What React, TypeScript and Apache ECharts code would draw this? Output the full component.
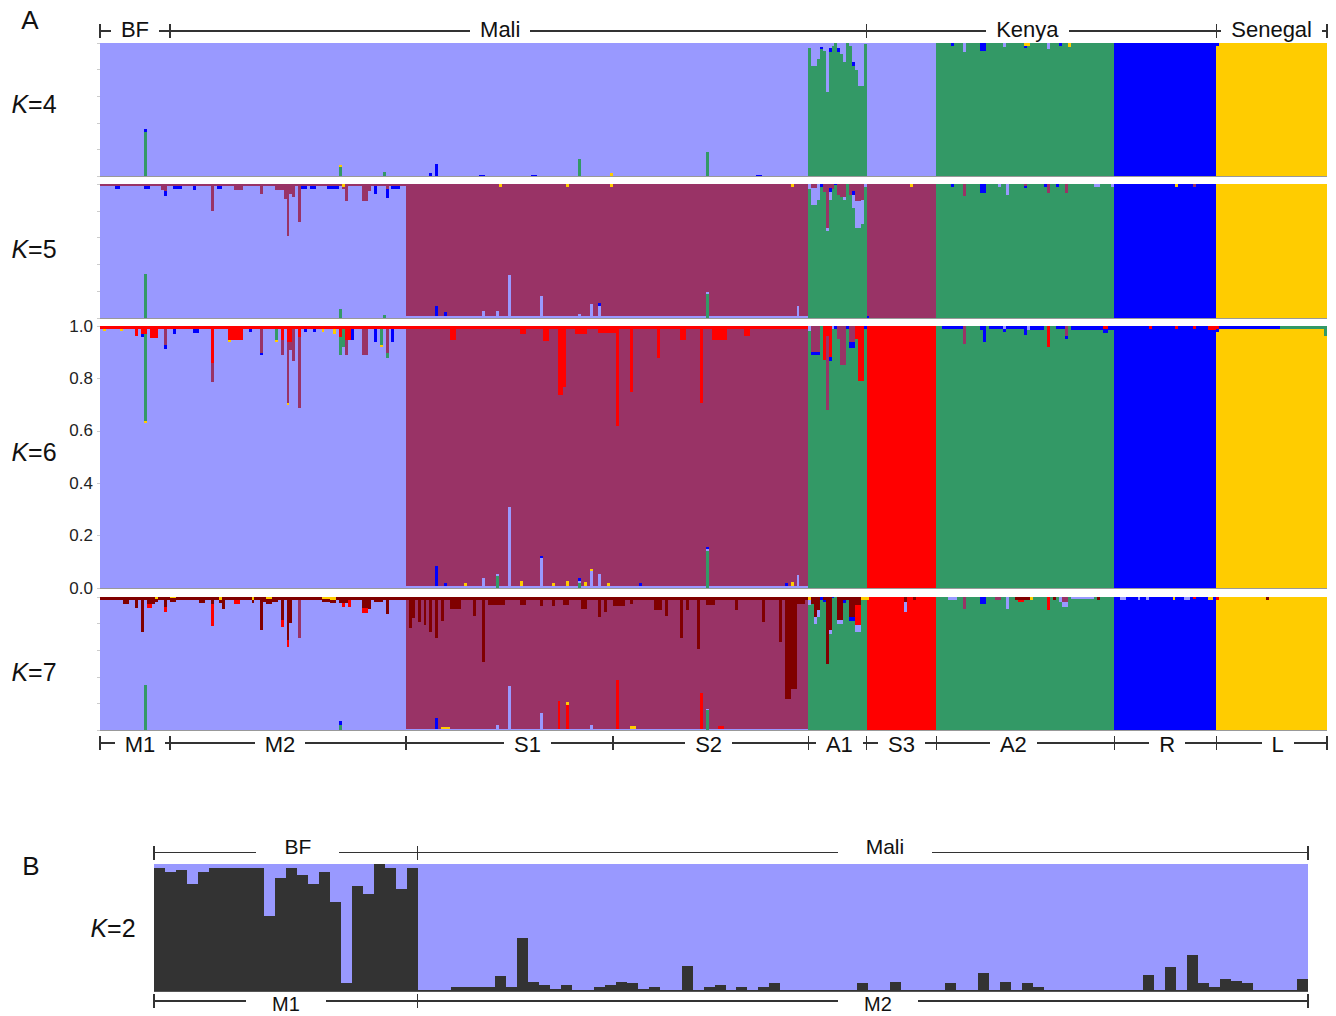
import React, { useEffect, useRef } from "react";
import * as echarts from "echarts";

// ---------------- DATA ----------------
const POPS = ["M1", "M2", "S1", "S2", "A1", "S3", "A2", "R", "L"];
const POP_SIZES = [24, 81, 71, 67, 20, 24, 61, 35, 38];
const COUNTRIES = ["BF", "Mali", "Kenya", "Senegal"];
const COUNTRY_POP_COUNT = [1, 4, 3, 1];
const K_VALUES = ["4", "5", "6", "7"];

// cluster codes: L lavender, M maroon, G green, B blue, Y yellow, R red, D dark red
const DOM_K4 = ["L", "L", "L", "L", "G", "L", "G", "B", "Y"];
const DOM_K5 = ["L", "L", "M", "M", "G", "M", "G", "B", "Y"];
const DOM_K6 = ["L", "L", "M", "M", "G", "R", "G", "B", "Y"];
const DOM_K7 = ["L", "L", "M", "M", "G", "R", "G", "B", "Y"];

// admixture: [fromIndex, toIndex, cluster, proportion, position(b=bottom,t=top)]
const K4_ADMIX = [
  [15, 15, "G", 0.33, "b"], [15, 15, "B", 0.02, "b"], [82, 82, "G", 0.07, "b"], [82, 82, "Y", 0.015, "b"],
  [97, 97, "G", 0.03, "b"], [113, 113, "B", 0.02, "b"], [115, 115, "B", 0.09, "b"], [130, 131, "B", 0.008, "b"],
  [148, 149, "B", 0.008, "b"], [164, 164, "G", 0.13, "b"], [175, 175, "Y", 0.02, "b"], [208, 208, "G", 0.18, "b"],
  [225, 226, "B", 0.008, "b"],
  [243, 243, "L", 0.04, "t"], [244, 245, "L", 0.17, "t"], [246, 246, "L", 0.12, "t"], [247, 247, "B", 0.015, "t"],
  [247, 247, "L", 0.03, "t"], [248, 248, "L", 0.06, "t"], [249, 249, "L", 0.37, "t"], [250, 250, "B", 0.03, "t"],
  [250, 250, "L", 0.04, "t"], [251, 251, "L", 0.02, "t"], [253, 253, "B", 0.03, "t"], [253, 253, "L", 0.04, "t"],
  [254, 254, "L", 0.08, "t"], [255, 255, "L", 0.14, "t"], [257, 257, "L", 0.02, "t"], [258, 258, "B", 0.03, "t"],
  [258, 258, "L", 0.14, "t"], [259, 259, "L", 0.2, "t"], [260, 261, "L", 0.32, "t"], [262, 262, "L", 0.01, "t"],
  [292, 292, "B", 0.025, "t"], [296, 296, "L", 0.07, "t"], [302, 303, "B", 0.06, "t"], [310, 310, "L", 0.03, "t"],
  [317, 317, "B", 0.02, "t"], [317, 318, "Y", 0.02, "t"], [325, 325, "L", 0.045, "t"], [329, 329, "B", 0.025, "t"],
  [332, 332, "Y", 0.03, "t"], [383, 383, "B", 0.02, "t"],
];

const K5_ADMIX = [
  [0, 104, "M", 0.015, "t"], [5, 6, "B", 0.02, "t"], [15, 16, "B", 0.02, "t"], [21, 21, "M", 0.03, "t"],
  [22, 22, "B", 0.035, "t"], [22, 22, "M", 0.04, "t"], [25, 27, "B", 0.02, "t"], [32, 32, "B", 0.03, "t"],
  [38, 38, "M", 0.19, "t"], [40, 41, "B", 0.02, "t"], [46, 48, "M", 0.03, "t"], [55, 55, "M", 0.06, "t"],
  [60, 62, "M", 0.03, "t"], [63, 63, "M", 0.1, "t"], [64, 64, "M", 0.37, "t"], [65, 65, "M", 0.06, "t"],
  [66, 66, "M", 0.08, "t"], [68, 68, "M", 0.27, "t"], [69, 70, "B", 0.02, "t"], [72, 73, "B", 0.02, "t"],
  [78, 81, "B", 0.02, "t"], [83, 83, "Y", 0.025, "t"], [84, 84, "M", 0.11, "t"], [90, 91, "M", 0.11, "t"],
  [92, 92, "M", 0.04, "t"], [94, 94, "B", 0.06, "t"], [98, 98, "B", 0.07, "t"], [98, 98, "M", 0.02, "t"],
  [100, 102, "B", 0.02, "t"],
  [15, 15, "G", 0.33, "b"], [82, 82, "G", 0.07, "b"], [97, 97, "G", 0.02, "b"],
  [105, 242, "L", 0.012, "b"], [115, 115, "B", 0.08, "b"], [118, 118, "B", 0.03, "b"], [131, 131, "L", 0.04, "b"],
  [136, 136, "L", 0.04, "b"], [140, 140, "L", 0.31, "b"], [151, 151, "L", 0.15, "b"], [164, 164, "L", 0.02, "b"],
  [168, 168, "L", 0.09, "b"], [171, 171, "L", 0.08, "b"], [171, 171, "B", 0.02, "b"], [208, 208, "G", 0.18, "b"],
  [239, 239, "L", 0.08, "b"],
  [137, 137, "Y", 0.025, "t"], [160, 160, "Y", 0.025, "t"], [175, 175, "Y", 0.025, "t"], [237, 237, "Y", 0.025, "t"],
  [243, 243, "L", 0.04, "t"], [244, 245, "L", 0.13, "t"], [244, 245, "M", 0.03, "t"], [246, 246, "L", 0.12, "t"],
  [247, 247, "B", 0.02, "t"], [248, 248, "M", 0.06, "t"], [249, 249, "L", 0.02, "t"], [249, 249, "M", 0.33, "t"],
  [250, 250, "L", 0.06, "t"], [250, 250, "B", 0.03, "t"], [250, 250, "M", 0.03, "t"], [251, 251, "M", 0.04, "t"],
  [252, 252, "B", 0.01, "t"], [253, 253, "M", 0.08, "t"], [254, 254, "M", 0.1, "t"], [255, 255, "L", 0.02, "t"],
  [255, 255, "M", 0.1, "t"], [257, 257, "M", 0.08, "t"], [258, 258, "L", 0.1, "t"], [258, 258, "B", 0.03, "t"],
  [258, 258, "M", 0.05, "t"], [259, 260, "L", 0.2, "t"], [259, 260, "M", 0.13, "t"], [261, 261, "L", 0.18, "t"],
  [261, 261, "M", 0.12, "t"], [262, 262, "L", 0.02, "t"],
  [263, 263, "B", 0.015, "b"], [278, 278, "Y", 0.025, "t"],
  [292, 292, "B", 0.02, "t"], [296, 296, "M", 0.09, "t"], [302, 303, "B", 0.065, "t"], [308, 308, "L", 0.02, "t"],
  [311, 311, "L", 0.08, "t"], [317, 317, "B", 0.015, "t"], [317, 317, "M", 0.015, "t"], [324, 324, "B", 0.02, "t"],
  [325, 325, "M", 0.065, "t"], [328, 328, "B", 0.02, "t"], [331, 331, "M", 0.065, "t"], [341, 342, "L", 0.02, "t"],
  [347, 347, "L", 0.02, "t"],
  [369, 369, "Y", 0.02, "t"], [375, 375, "M", 0.02, "t"],
];

const K6_ADMIX = [
  [0, 104, "R", 0.012, "t"], [1, 1, "Y", 0.008, "t"], [7, 7, "Y", 0.008, "t"], [12, 12, "R", 0.025, "t"],
  [14, 14, "B", 0.01, "t"], [14, 14, "R", 0.02, "t"], [15, 15, "Y", 0.01, "t"], [15, 15, "G", 0.33, "t"],
  [15, 15, "R", 0.02, "t"], [17, 19, "R", 0.035, "t"], [22, 22, "B", 0.015, "t"], [22, 22, "M", 0.06, "t"],
  [25, 25, "B", 0.02, "t"], [32, 33, "B", 0.015, "t"], [38, 38, "M", 0.07, "t"], [38, 38, "R", 0.13, "t"],
  [44, 44, "Y", 0.01, "t"], [44, 48, "R", 0.04, "t"], [51, 51, "B", 0.01, "t"], [55, 55, "B", 0.01, "t"],
  [55, 55, "M", 0.09, "t"], [60, 60, "Y", 0.01, "t"], [60, 60, "G", 0.04, "t"], [62, 62, "M", 0.06, "t"],
  [62, 62, "R", 0.04, "t"], [64, 64, "Y", 0.008, "t"], [64, 64, "M", 0.23, "t"], [64, 64, "R", 0.05, "t"],
  [65, 65, "M", 0.03, "t"], [65, 65, "R", 0.05, "t"], [66, 66, "M", 0.12, "t"], [68, 68, "M", 0.27, "t"],
  [68, 68, "R", 0.03, "t"], [70, 70, "B", 0.01, "t"], [73, 73, "B", 0.01, "t"], [76, 76, "Y", 0.01, "t"],
  [80, 80, "Y", 0.02, "t"], [82, 83, "G", 0.07, "t"], [82, 82, "R", 0.03, "t"], [84, 84, "M", 0.06, "t"],
  [84, 85, "R", 0.04, "t"], [86, 86, "B", 0.04, "t"], [90, 91, "M", 0.1, "t"], [94, 94, "B", 0.05, "t"],
  [96, 96, "Y", 0.01, "t"], [96, 96, "G", 0.06, "t"], [98, 98, "G", 0.02, "t"], [98, 98, "M", 0.09, "t"],
  [100, 100, "B", 0.05, "t"],
  [105, 242, "R", 0.012, "t"], [120, 121, "R", 0.04, "t"], [144, 145, "R", 0.02, "t"], [152, 153, "R", 0.045, "t"],
  [157, 158, "R", 0.25, "t"], [159, 159, "R", 0.22, "t"], [163, 166, "R", 0.02, "t"], [171, 176, "R", 0.015, "t"],
  [177, 177, "R", 0.37, "t"], [182, 182, "R", 0.24, "t"], [191, 191, "R", 0.11, "t"], [199, 200, "R", 0.04, "t"],
  [206, 206, "R", 0.28, "t"], [210, 214, "R", 0.04, "t"], [221, 222, "R", 0.025, "t"],
  [105, 242, "L", 0.008, "b"], [115, 115, "B", 0.075, "b"], [118, 118, "B", 0.01, "b"], [125, 125, "Y", 0.01, "b"],
  [131, 131, "L", 0.03, "b"], [136, 136, "G", 0.045, "b"], [140, 140, "L", 0.3, "b"], [144, 144, "Y", 0.02, "b"],
  [151, 151, "L", 0.105, "b"], [151, 151, "B", 0.01, "b"], [155, 155, "Y", 0.01, "b"], [160, 160, "Y", 0.02, "b"],
  [164, 164, "G", 0.02, "b"], [164, 164, "B", 0.01, "b"], [166, 166, "Y", 0.015, "b"], [168, 168, "L", 0.055, "b"],
  [168, 168, "Y", 0.01, "b"], [171, 171, "L", 0.045, "b"], [174, 174, "Y", 0.01, "b"], [185, 185, "B", 0.01, "b"],
  [208, 208, "G", 0.14, "b"], [208, 208, "B", 0.01, "b"], [235, 235, "B", 0.01, "b"], [237, 237, "Y", 0.015, "b"],
  [239, 239, "L", 0.04, "b"],
  [243, 243, "L", 0.02, "t"], [244, 246, "B", 0.01, "t"], [244, 246, "M", 0.1, "t"],
  [248, 248, "R", 0.13, "t"], [249, 249, "M", 0.28, "t"], [249, 249, "R", 0.04, "t"], [250, 250, "B", 0.015, "t"],
  [250, 250, "R", 0.12, "t"], [251, 251, "L", 0.01, "t"], [252, 252, "B", 0.01, "t"], [253, 253, "M", 0.05, "t"],
  [254, 255, "M", 0.15, "t"], [256, 256, "B", 0.01, "t"], [257, 258, "B", 0.025, "t"], [257, 258, "M", 0.06, "t"],
  [259, 259, "R", 0.05, "t"], [260, 261, "R", 0.21, "t"], [262, 262, "B", 0.01, "t"],
  [289, 295, "B", 0.012, "t"], [296, 296, "M", 0.07, "t"], [302, 302, "B", 0.015, "t"], [303, 303, "B", 0.06, "t"],
  [305, 316, "B", 0.012, "t"], [310, 310, "L", 0.01, "t"], [317, 317, "B", 0.035, "t"], [318, 318, "L", 0.015, "t"],
  [319, 323, "B", 0.015, "t"], [325, 325, "R", 0.08, "t"], [328, 330, "B", 0.012, "t"], [331, 331, "B", 0.01, "t"],
  [331, 331, "M", 0.04, "t"], [333, 347, "B", 0.015, "t"], [344, 345, "R", 0.01, "t"],
  [360, 360, "R", 0.012, "t"], [369, 369, "R", 0.012, "t"], [375, 375, "R", 0.012, "t"], [380, 382, "R", 0.015, "t"],
  [383, 383, "R", 0.01, "t"], [383, 404, "B", 0.012, "t"], [405, 420, "G", 0.01, "t"], [420, 420, "G", 0.03, "t"],
];

const K7_ADMIX = [
  [0, 104, "D", 0.025, "t"], [8, 9, "D", 0.03, "t"], [12, 12, "D", 0.06, "t"], [14, 14, "D", 0.24, "t"],
  [16, 17, "R", 0.03, "t"], [16, 18, "D", 0.025, "t"], [19, 19, "Y", 0.015, "t"], [22, 22, "R", 0.04, "t"],
  [22, 22, "D", 0.05, "t"], [24, 25, "Y", 0.01, "t"], [34, 35, "D", 0.02, "t"], [38, 38, "R", 0.16, "t"],
  [38, 38, "D", 0.03, "t"], [41, 41, "Y", 0.02, "t"], [42, 42, "D", 0.065, "t"], [46, 47, "R", 0.03, "t"],
  [52, 52, "Y", 0.02, "t"], [55, 55, "D", 0.22, "t"], [56, 60, "D", 0.01, "t"], [57, 58, "Y", 0.015, "t"],
  [62, 62, "R", 0.05, "t"], [62, 62, "D", 0.15, "t"], [64, 64, "R", 0.05, "t"], [64, 64, "D", 0.3, "t"],
  [65, 65, "D", 0.17, "t"], [68, 68, "M", 0.28, "t"], [76, 78, "Y", 0.015, "t"], [79, 80, "Y", 0.02, "t"],
  [82, 84, "D", 0.02, "t"], [83, 83, "R", 0.03, "t"], [85, 85, "R", 0.05, "t"], [90, 91, "R", 0.04, "t"],
  [90, 91, "D", 0.055, "t"], [92, 92, "D", 0.065, "t"], [94, 96, "D", 0.01, "t"], [98, 98, "D", 0.1, "t"],
  [15, 15, "G", 0.34, "b"], [82, 82, "G", 0.04, "b"], [82, 82, "B", 0.03, "b"],
  [105, 242, "D", 0.02, "t"], [106, 106, "D", 0.21, "t"], [107, 107, "D", 0.14, "t"], [109, 109, "D", 0.17, "t"],
  [111, 111, "D", 0.19, "t"], [113, 113, "D", 0.24, "t"], [115, 115, "D", 0.29, "t"], [117, 117, "D", 0.16, "t"],
  [120, 123, "D", 0.07, "t"], [128, 128, "D", 0.12, "t"], [131, 131, "D", 0.47, "t"], [133, 138, "D", 0.04, "t"],
  [144, 145, "D", 0.04, "t"], [151, 151, "D", 0.05, "t"], [155, 155, "D", 0.05, "t"], [159, 160, "D", 0.04, "t"],
  [165, 166, "D", 0.07, "t"], [171, 171, "D", 0.13, "t"], [173, 173, "D", 0.09, "t"], [176, 179, "D", 0.05, "t"],
  [182, 182, "D", 0.03, "t"], [190, 192, "D", 0.08, "t"], [194, 194, "D", 0.12, "t"], [199, 199, "D", 0.29, "t"],
  [201, 201, "D", 0.08, "t"], [205, 205, "D", 0.37, "t"], [208, 210, "D", 0.04, "t"], [218, 218, "D", 0.08, "t"],
  [227, 227, "D", 0.17, "t"], [233, 233, "D", 0.32, "t"], [235, 236, "D", 0.75, "t"], [237, 238, "D", 0.67, "t"],
  [239, 241, "D", 0.03, "t"],
  [105, 242, "L", 0.008, "b"], [115, 115, "B", 0.08, "b"], [117, 119, "Y", 0.015, "b"], [136, 136, "L", 0.03, "b"],
  [140, 140, "L", 0.32, "b"], [151, 151, "L", 0.12, "b"], [157, 157, "R", 0.21, "b"], [160, 160, "R", 0.18, "b"],
  [160, 160, "Y", 0.02, "b"], [168, 168, "L", 0.03, "b"], [177, 177, "R", 0.37, "b"], [182, 183, "Y", 0.02, "b"],
  [206, 206, "R", 0.27, "b"], [208, 208, "G", 0.15, "b"], [212, 213, "R", 0.02, "b"],
  [243, 243, "L", 0.04, "t"], [243, 243, "Y", 0.02, "t"], [244, 244, "D", 0.05, "t"], [245, 245, "L", 0.05, "t"],
  [245, 245, "D", 0.15, "t"], [246, 246, "L", 0.05, "t"], [246, 246, "D", 0.1, "t"], [247, 247, "B", 0.02, "t"],
  [248, 248, "B", 0.02, "t"], [248, 248, "D", 0.02, "t"], [249, 249, "D", 0.5, "t"], [250, 250, "L", 0.03, "t"],
  [250, 250, "D", 0.25, "t"], [251, 251, "B", 0.01, "t"], [253, 254, "L", 0.03, "t"], [253, 254, "D", 0.17, "t"],
  [255, 255, "B", 0.02, "t"], [255, 256, "D", 0.025, "t"], [257, 258, "B", 0.03, "t"], [257, 258, "D", 0.15, "t"],
  [259, 260, "L", 0.05, "t"], [259, 260, "R", 0.15, "t"], [259, 260, "D", 0.06, "t"], [261, 262, "Y", 0.02, "t"],
  [263, 263, "Y", 0.02, "t"], [276, 276, "L", 0.07, "t"], [276, 276, "D", 0.04, "t"], [279, 279, "D", 0.02, "t"],
  [291, 293, "L", 0.02, "t"], [296, 296, "M", 0.09, "t"], [302, 303, "B", 0.05, "t"], [307, 308, "M", 0.02, "t"],
  [311, 311, "L", 0.09, "t"], [314, 318, "D", 0.02, "t"], [315, 316, "R", 0.02, "t"], [319, 319, "Y", 0.02, "t"],
  [325, 325, "R", 0.1, "t"], [327, 327, "D", 0.02, "t"], [329, 331, "L", 0.04, "t"], [330, 331, "M", 0.035, "t"],
  [333, 340, "L", 0.015, "t"], [342, 342, "D", 0.02, "t"],
  [350, 351, "L", 0.025, "t"], [356, 356, "L", 0.025, "t"], [359, 359, "L", 0.025, "t"], [368, 368, "Y", 0.02, "t"],
  [372, 373, "L", 0.02, "t"], [375, 375, "R", 0.015, "t"], [380, 381, "Y", 0.02, "t"],
  [383, 383, "R", 0.02, "t"], [400, 400, "D", 0.02, "t"],
];

// Panel B (K=2): proportion of the dark cluster per individual
const B_POPS = ["M1", "M2"];
const B_COUNTRIES = ["BF", "Mali"];
const B_M1_DARK = [0.97, 0.94, 0.95, 0.84, 0.94, 0.97, 0.97, 0.97, 0.97, 0.97, 0.59, 0.89, 0.97, 0.91, 0.84, 0.94,
  0.7, 0.06, 0.83, 0.76, 1.0, 0.97, 0.8, 0.97];
const B_M2_DARK = [0.01, 0.01, 0.01, 0.03, 0.03, 0.03, 0.03, 0.12, 0.03, 0.42,
  0.07, 0.045, 0.015, 0.045, 0.01, 0.01, 0.03, 0.045, 0.07, 0.06,
  0.015, 0.03, 0.01, 0.01, 0.2, 0.01, 0.03, 0.045, 0.01, 0.03,
  0.01, 0.03, 0.06, 0.01, 0.01, 0.01, 0.01, 0.01, 0.01, 0.01,
  0.06, 0.01, 0.01, 0.073, 0.01, 0.01, 0.01, 0.01, 0.06, 0.01,
  0.01, 0.14, 0.01, 0.073, 0.01, 0.06, 0.03, 0.01, 0.01, 0.01,
  0.01, 0.01, 0.01, 0.01, 0.01, 0.01, 0.123, 0.01, 0.186, 0.01,
  0.28, 0.06, 0.03, 0.092, 0.076, 0.06, 0.01, 0.01, 0.01, 0.01,
  0.092];

// ---------------- STYLE / LAYOUT ----------------
const COLORS: Record<string, string> = {
  L: "#9999FF", M: "#993366", G: "#339966", B: "#0000FF", Y: "#FFCC00", R: "#FF0000", D: "#800000", K: "#333333",
};
const FONT = 'Arial, "Liberation Sans", Helvetica, sans-serif';
const ROWS = [
  { dom: DOM_K4, admix: K4_ADMIX, bottom: ["G", "B", "Y"], top: ["B", "L", "Y"] },
  { dom: DOM_K5, admix: K5_ADMIX, bottom: ["G", "L", "B", "Y"], top: ["L", "B", "M", "Y"] },
  { dom: DOM_K6, admix: K6_ADMIX, bottom: ["G", "L", "B", "Y"], top: ["Y", "B", "G", "L", "M", "R"] },
  { dom: DOM_K7, admix: K7_ADMIX, bottom: ["G", "L", "B", "R", "Y"], top: ["B", "G", "L", "R", "M", "D", "Y"] },
];
const GRIDS = [
  { left: 100, top: 43, width: 1227, height: 133 },
  { left: 100, top: 184, width: 1227, height: 134 },
  { left: 100, top: 326, width: 1227, height: 262 },
  { left: 100, top: 597, width: 1227, height: 133 },
  { left: 154, top: 864, width: 1154, height: 127 },
];
const K_LABEL_POS = [[34, 104], [34, 249], [34, 452], [34, 672]];
const K2_LABEL_POS = [113, 928];
const A_COUNTRY_DX = [0, -18, -14, 0];
const A_POP_DX = [5, -8, 18, -2, 2, 0, -12, 2, 6];
const B_COUNTRY_DX = [12, 22];
const B_POP_DX = [0, 15];

function barSeries(name: string, color: string, stack: string, axis: number, data: (number | null)[]) {
  return {
    type: "bar", name, stack, xAxisIndex: axis, yAxisIndex: axis, barCategoryGap: "0%", silent: true,
    data, itemStyle: { color, borderWidth: 0 }, emphasis: { disabled: true },
  };
}

function buildRowSeries(r: number) {
  const row = ROWS[r];
  const N = POP_SIZES.reduce((a, b) => a + b, 0);
  const popOf: number[] = [];
  POP_SIZES.forEach((s, p) => { for (let k = 0; k < s; k++) popOf.push(p); });
  const slots: Record<string, number[]> = {};
  const get = (key: string) => slots[key] || (slots[key] = new Array(N).fill(0));
  for (const [from, to, c, v, pos] of row.admix as any[]) {
    for (let i = from; i <= to; i++) get(pos + c)[i] += v;
  }
  const minor = new Array(N).fill(0);
  Object.values(slots).forEach((arr) => arr.forEach((v, i) => { minor[i] += v; }));
  const clean = (arr: number[]) => arr.map((v) => (v > 0 ? +v.toFixed(4) : null));
  const out: any[] = [];
  const stack = "row" + r;
  row.bottom.forEach((c) => out.push(barSeries("b" + c, COLORS[c], stack, r, clean(get("b" + c)))));
  Array.from(new Set(row.dom)).forEach((c) => {
    out.push(barSeries("d" + c, COLORS[c], stack, r, clean(popOf.map((p, i) => (row.dom[p] === c ? 1 - minor[i] : 0)))));
  });
  row.top.forEach((c) => out.push(barSeries("t" + c, COLORS[c], stack, r, clean(get("t" + c)))));
  return out;
}

function buildOption() {
  const N = POP_SIZES.reduce((a, b) => a + b, 0);
  const catsA = Array.from({ length: N }, (_, i) => String(i));
  const bDark = [...B_M1_DARK, ...B_M2_DARK];
  const catsB = bDark.map((_, i) => String(i));
  const xAxis: any[] = [];
  const yAxis: any[] = [];
  for (let r = 0; r < 4; r++) {
    xAxis.push({
      type: "category", gridIndex: r, data: catsA, z: 5,
      axisLine: { show: true, lineStyle: { color: "#999", width: 1 } },
      axisTick: { show: false }, axisLabel: { show: false }, splitLine: { show: false },
    });
    yAxis.push({
      type: "value", gridIndex: r, min: 0, max: 1, interval: 0.2,
      axisLine: { show: true, lineStyle: { color: "#bbb", width: 1 } },
      axisTick: { show: true, length: 3, lineStyle: { color: "#ccc" } },
      axisLabel: {
        show: r === 2, fontSize: 17, color: "#222", fontFamily: FONT, margin: 7,
        formatter: (v: number) => v.toFixed(1),
      },
      splitLine: { show: false },
    });
  }
  xAxis.push({
    type: "category", gridIndex: 4, data: catsB, z: 5,
    axisLine: { show: true, lineStyle: { color: "#555", width: 1 } },
    axisTick: { show: false }, axisLabel: { show: false }, splitLine: { show: false },
  });
  yAxis.push({ type: "value", gridIndex: 4, min: 0, max: 1, show: false });

  const series: any[] = [];
  for (let r = 0; r < 4; r++) series.push(...buildRowSeries(r));
  series.push(barSeries("bDark", COLORS.K, "rowB", 4, bDark.map((v) => (v > 0 ? v : null))));
  series.push(barSeries("bLav", COLORS.L, "rowB", 4, bDark.map((v) => (1 - v > 0.0001 ? +(1 - v).toFixed(4) : null))));

  return {
    animation: false,
    backgroundColor: "#ffffff",
    grid: GRIDS.map((g) => ({ ...g, containLabel: false })),
    xAxis, yAxis, series,
  };
}

function buildGraphics(chart: any) {
  const els: any[] = [];
  const ctx = document.createElement("canvas").getContext("2d") as CanvasRenderingContext2D;
  const textW = (t: string, size: number) => { ctx.font = `${size}px ${FONT}`; return ctx.measureText(t).width; };
  const edges = (axis: number, sizes: number[]) => {
    const c0 = chart.convertToPixel({ xAxisIndex: axis }, 0) as number;
    const c1 = chart.convertToPixel({ xAxisIndex: axis }, 1) as number;
    const bw = c1 - c0;
    const e = [c0 - bw / 2];
    let acc = 0;
    sizes.forEach((s) => { acc += s; e.push(c0 - bw / 2 + acc * bw); });
    return e;
  };
  const yPix = (axis: number, v: number) => chart.convertToPixel({ yAxisIndex: axis }, v) as number;
  const line = (x1: number, y1: number, x2: number, y2: number) => els.push({
    type: "line", silent: true, shape: { x1, y1, x2, y2 }, style: { stroke: "#333", lineWidth: 1.4 },
  });
  const text = (x: number, y: number, t: string, size: number, extra: any = {}) => els.push({
    type: "text", silent: true, x, y,
    style: {
      text: t, fill: "#111", fontSize: size, fontFamily: FONT,
      textAlign: "center", textVerticalAlign: "middle", align: "center", verticalAlign: "middle", ...extra,
    },
  });
  const bracket = (x0: number, x1: number, y: number, label: string, dx: number, dy: number, gap: number, size: number) => {
    const cx = (x0 + x1) / 2 + dx;
    const w = textW(label, size);
    const l = cx - w / 2 - gap;
    const rr = cx + w / 2 + gap;
    if (l > x0) line(x0, y, l, y);
    if (rr < x1) line(rr, y, x1, y);
    line(x0, y - 7, x0, y + 7);
    line(x1, y - 7, x1, y + 7);
    text(cx, y + dy, label, size);
  };

  const eA = edges(0, POP_SIZES);
  const yTopA = yPix(0, 1) - 12;
  const yBotA = yPix(3, 0) + 13;
  let p = 0;
  COUNTRIES.forEach((c, i) => {
    const n = COUNTRY_POP_COUNT[i];
    bracket(eA[p], eA[p + n], yTopA, c, A_COUNTRY_DX[i], -2, 10, 22);
    p += n;
  });
  POPS.forEach((pop, i) => bracket(eA[i], eA[i + 1], yBotA, pop, A_POP_DX[i], 1, 10, 22));

  const eB = edges(4, [B_M1_DARK.length, B_M2_DARK.length]);
  const yTopB = yPix(4, 1) - 11.5;
  const yBotB = yPix(4, 0) + 10;
  B_COUNTRIES.forEach((c, i) => bracket(eB[i], eB[i + 1], yTopB, c, B_COUNTRY_DX[i], -6, 28, 21));
  B_POPS.forEach((c, i) => bracket(eB[i], eB[i + 1], yBotB, c, B_POP_DX[i], 3, 26, 20));

  text(30, 20, "A", 26);
  text(31, 866, "B", 26);
  const kRich = { rich: { i: { fontStyle: "italic", fontSize: 25, fontFamily: FONT, fill: "#111" } } };
  K_VALUES.forEach((k, i) => text(K_LABEL_POS[i][0], K_LABEL_POS[i][1], `{i|K}=${k}`, 25, kRich));
  text(K2_LABEL_POS[0], K2_LABEL_POS[1], "{i|K}=2", 25, kRich);
  return els;
}

export default function App() {
  const ref = useRef<HTMLDivElement>(null);
  useEffect(() => {
    document.body.style.margin = "0";
    const chart = echarts.init(ref.current as HTMLDivElement, undefined, { renderer: "svg" });
    chart.setOption(buildOption() as any);
    chart.setOption({ graphic: { elements: buildGraphics(chart) } } as any);
    return () => chart.dispose();
  }, []);
  return (
    <>
      <style>{"#structure-chart svg path { shape-rendering: crispEdges; }"}</style>
      <div id="structure-chart" ref={ref} style={{ width: 1336, height: 1016 }} />
    </>
  );
}
